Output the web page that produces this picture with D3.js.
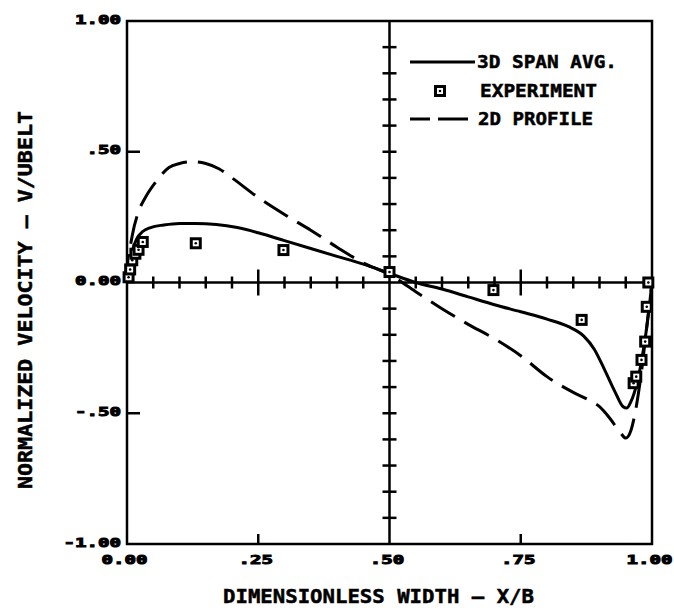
<!DOCTYPE html>
<html>
<head>
<meta charset="utf-8">
<script src="https://cdn.jsdelivr.net/npm/d3@7"></script>
<style>
  body { margin: 0; background: #fff; }
  text { font-family: "DejaVu Sans Mono", monospace; font-weight: bold; fill: #000; stroke: #000; stroke-width: 0.5; }
  .tickLab { stroke-width: 1; }
</style>
</head>
<body>
<div id="chart"></div>
<script>
// chart values

// 3D span averaged velocity (solid line)
var spanX = [0, 0.004, 0.01, 0.018, 0.03, 0.045, 0.07, 0.1, 0.13, 0.17, 0.21, 0.25, 0.3, 0.35, 0.4, 0.45, 0.5,
             0.55, 0.6, 0.65, 0.7, 0.75, 0.8, 0.84, 0.87, 0.89, 0.91, 0.93, 0.945, 0.952, 0.96, 0.97, 0.98, 0.988, 0.995, 1.0];
var spanY = [0, 0.06, 0.12, 0.165, 0.195, 0.21, 0.22, 0.226, 0.226, 0.222, 0.21, 0.19, 0.16, 0.13, 0.1, 0.07, 0.035,
             0.0, -0.025, -0.055, -0.085, -0.112, -0.14, -0.168, -0.205, -0.255, -0.335, -0.42, -0.475, -0.48, -0.455, -0.395, -0.3, -0.2, -0.09, 0];

// 2D profile (dashed line)
var profX = [0, 0.004, 0.01, 0.02, 0.035, 0.055, 0.08, 0.1, 0.125, 0.15, 0.175, 0.2, 0.25, 0.3, 0.35, 0.4, 0.45, 0.5,
             0.55, 0.6, 0.65, 0.7, 0.75, 0.8, 0.85, 0.88, 0.9, 0.92, 0.94, 0.95, 0.96, 0.97, 0.98, 0.99, 1.0];
var profY = [0, 0.1, 0.18, 0.26, 0.325, 0.385, 0.44, 0.455, 0.462, 0.455, 0.435, 0.4, 0.325, 0.26, 0.2, 0.135, 0.075, 0.03,
             -0.035, -0.1, -0.16, -0.215, -0.28, -0.36, -0.42, -0.45, -0.475, -0.52, -0.575, -0.595, -0.565, -0.475, -0.34, -0.17, 0];

// experiment points
var expX = [0.003, 0.006, 0.01, 0.016, 0.022, 0.03, 0.131, 0.298, 0.5, 0.698, 0.866, 0.965, 0.97, 0.98, 0.987, 0.99, 0.993];
var expY = [0.02, 0.05, 0.085, 0.11, 0.125, 0.155, 0.15, 0.124, 0.04, -0.029, -0.143, -0.385, -0.36, -0.296, -0.226, -0.093, 0.0];

// tick labels
var xTickVals = [0, 0.25, 0.5, 0.75, 1.0];
var xTickText = ["0.00", ".25", ".50", ".75", "1.00"];
var yTickVals = [1.0, 0.5, 0, -0.5, -1.0];
var yTickText = ["1.00", ".50", "0.00", "-.50", "-1.00"];

var legendText = ["3D SPAN AVG.", "EXPERIMENT", "2D PROFILE"];

var width = 674, height = 610;

var svg = d3.select("#chart").append("svg")
    .attr("width", width)
    .attr("height", height);

// plot frame (window.top is taken, so prefixed names)
var pLeft = 127, pRight = 652, pTop = 21, pBottom = 544;

var x = d3.scaleLinear().domain([0, 1]).range([pLeft, pRight]);
var y = d3.scaleLinear().domain([-1, 1]).range([pBottom, pTop]);

var ink = "#000";

// frame box
svg.append("rect")
    .attr("x", pLeft).attr("y", pTop)
    .attr("width", pRight - pLeft).attr("height", pBottom - pTop)
    .attr("fill", "none").attr("stroke", ink).attr("stroke-width", 2.5);

// zero line and centre line
svg.append("line")
    .attr("x1", pLeft).attr("x2", pRight)
    .attr("y1", y(0)).attr("y2", y(0))
    .attr("stroke", ink).attr("stroke-width", 2.5);
svg.append("line")
    .attr("x1", x(0.5)).attr("x2", x(0.5))
    .attr("y1", pTop).attr("y2", pBottom)
    .attr("stroke", ink).attr("stroke-width", 2.5);

// cross ticks on the zero line, every .05
var ticks = svg.append("g").attr("stroke", ink).attr("stroke-width", 2.5);
d3.range(0.05, 1, 0.05).forEach(function(v) {
    if (Math.abs(v - 0.5) < 1e-6) return;
    var big = Math.abs(v - 0.25) < 1e-6 || Math.abs(v - 0.75) < 1e-6;
    var h = big ? 13 : 6;
    ticks.append("line")
        .attr("x1", x(v)).attr("x2", x(v))
        .attr("y1", y(0) - h).attr("y2", y(0) + h);
});

// cross ticks on the centre line, every .1
d3.range(-0.9, 1, 0.1).forEach(function(v) {
    if (Math.abs(v) < 1e-6) return;
    ticks.append("line")
        .attr("x1", x(0.5) - 7).attr("x2", x(0.5) + 7)
        .attr("y1", y(v)).attr("y2", y(v));
});

// frame ticks
[0.5, -0.5].forEach(function(v) {
    ticks.append("line")
        .attr("x1", pLeft).attr("x2", pLeft + 13)
        .attr("y1", y(v)).attr("y2", y(v));
});
[0.25, 0.75].forEach(function(v) {
    ticks.append("line")
        .attr("x1", x(v)).attr("x2", x(v))
        .attr("y1", pBottom).attr("y2", pBottom - 10);
});

// tick labels through d3 axes
var xAxis = svg.append("g")
    .attr("transform", "translate(0," + pBottom + ")")
    .call(d3.axisBottom(x).tickValues(xTickVals).tickSize(0)
        .tickFormat(function(d, i) { return xTickText[i]; }));
xAxis.select(".domain").remove();
xAxis.selectAll("text")
    .attr("class", "tickLab")
    .attr("font-size", 13)
    .attr("y", 20).attr("dy", null)
    .attr("dx", -3)
    .attr("textLength", function(d, i) { return xTickText[i].length * 11.5; })
    .attr("lengthAdjust", "spacingAndGlyphs");

var yAxis = svg.append("g")
    .attr("transform", "translate(" + pLeft + ",0)")
    .call(d3.axisLeft(y).tickValues(yTickVals).tickSize(0)
        .tickFormat(function(d, i) { return yTickText[i]; }));
yAxis.select(".domain").remove();
yAxis.selectAll("text")
    .attr("class", "tickLab")
    .attr("font-size", 13)
    .attr("x", -6).attr("dy", 2)
    .attr("textLength", function(d, i) { return yTickText[i].length * 11.5; })
    .attr("lengthAdjust", "spacingAndGlyphs");

// axis titles
svg.append("text")
    .attr("x", 223).attr("y", 603)
    .attr("font-size", 20)
    .attr("textLength", 311).attr("lengthAdjust", "spacingAndGlyphs")
    .text("DIMENSIONLESS WIDTH \u2014 X/B");

svg.append("text")
    .attr("transform", "translate(32,300) rotate(-90)")
    .attr("text-anchor", "middle")
    .attr("font-size", 20)
    .attr("textLength", 378).attr("lengthAdjust", "spacingAndGlyphs")
    .text("NORMALIZED VELOCITY \u2014 V/UBELT");

// curves
var line = d3.line()
    .x(function(d) { return x(d[0]); })
    .y(function(d) { return y(d[1]); })
    .curve(d3.curveMonotoneX);

svg.append("path")
    .datum(d3.zip(spanX, spanY))
    .attr("d", line)
    .attr("fill", "none").attr("stroke", ink).attr("stroke-width", 3);

svg.append("path")
    .datum(d3.zip(profX, profY))
    .attr("d", line)
    .attr("fill", "none").attr("stroke", ink).attr("stroke-width", 3)
    .attr("stroke-dasharray", "28,11");

// experiment marker
function marker(g, cx, cy) {
    g.append("rect")
        .attr("x", cx - 4.5).attr("y", cy - 4.5)
        .attr("width", 9).attr("height", 9)
        .attr("fill", "#fff").attr("stroke", ink).attr("stroke-width", 3);
    g.append("circle")
        .attr("cx", cx).attr("cy", cy).attr("r", 1.3)
        .attr("fill", ink);
}

var pts = svg.append("g");
d3.zip(expX, expY).forEach(function(p) {
    marker(pts, x(p[0]), y(p[1]));
});

// legend
var lg = svg.append("g");
lg.append("line")
    .attr("x1", 410).attr("x2", 475).attr("y1", 62).attr("y2", 62)
    .attr("stroke", ink).attr("stroke-width", 3);
lg.append("text").attr("x", 477).attr("y", 68)
    .attr("font-size", 18)
    .attr("textLength", 140).attr("lengthAdjust", "spacingAndGlyphs")
    .text(legendText[0]);

marker(lg, 440, 91);
lg.append("text").attr("x", 480).attr("y", 97)
    .attr("font-size", 18)
    .attr("textLength", 117).attr("lengthAdjust", "spacingAndGlyphs")
    .text(legendText[1]);

lg.append("line")
    .attr("x1", 410).attr("x2", 468).attr("y1", 119).attr("y2", 119)
    .attr("stroke", ink).attr("stroke-width", 3)
    .attr("stroke-dasharray", "20,8,30,8");
lg.append("text").attr("x", 478).attr("y", 125)
    .attr("font-size", 18)
    .attr("textLength", 115).attr("lengthAdjust", "spacingAndGlyphs")
    .text(legendText[2]);
</script>
</body>
</html>
